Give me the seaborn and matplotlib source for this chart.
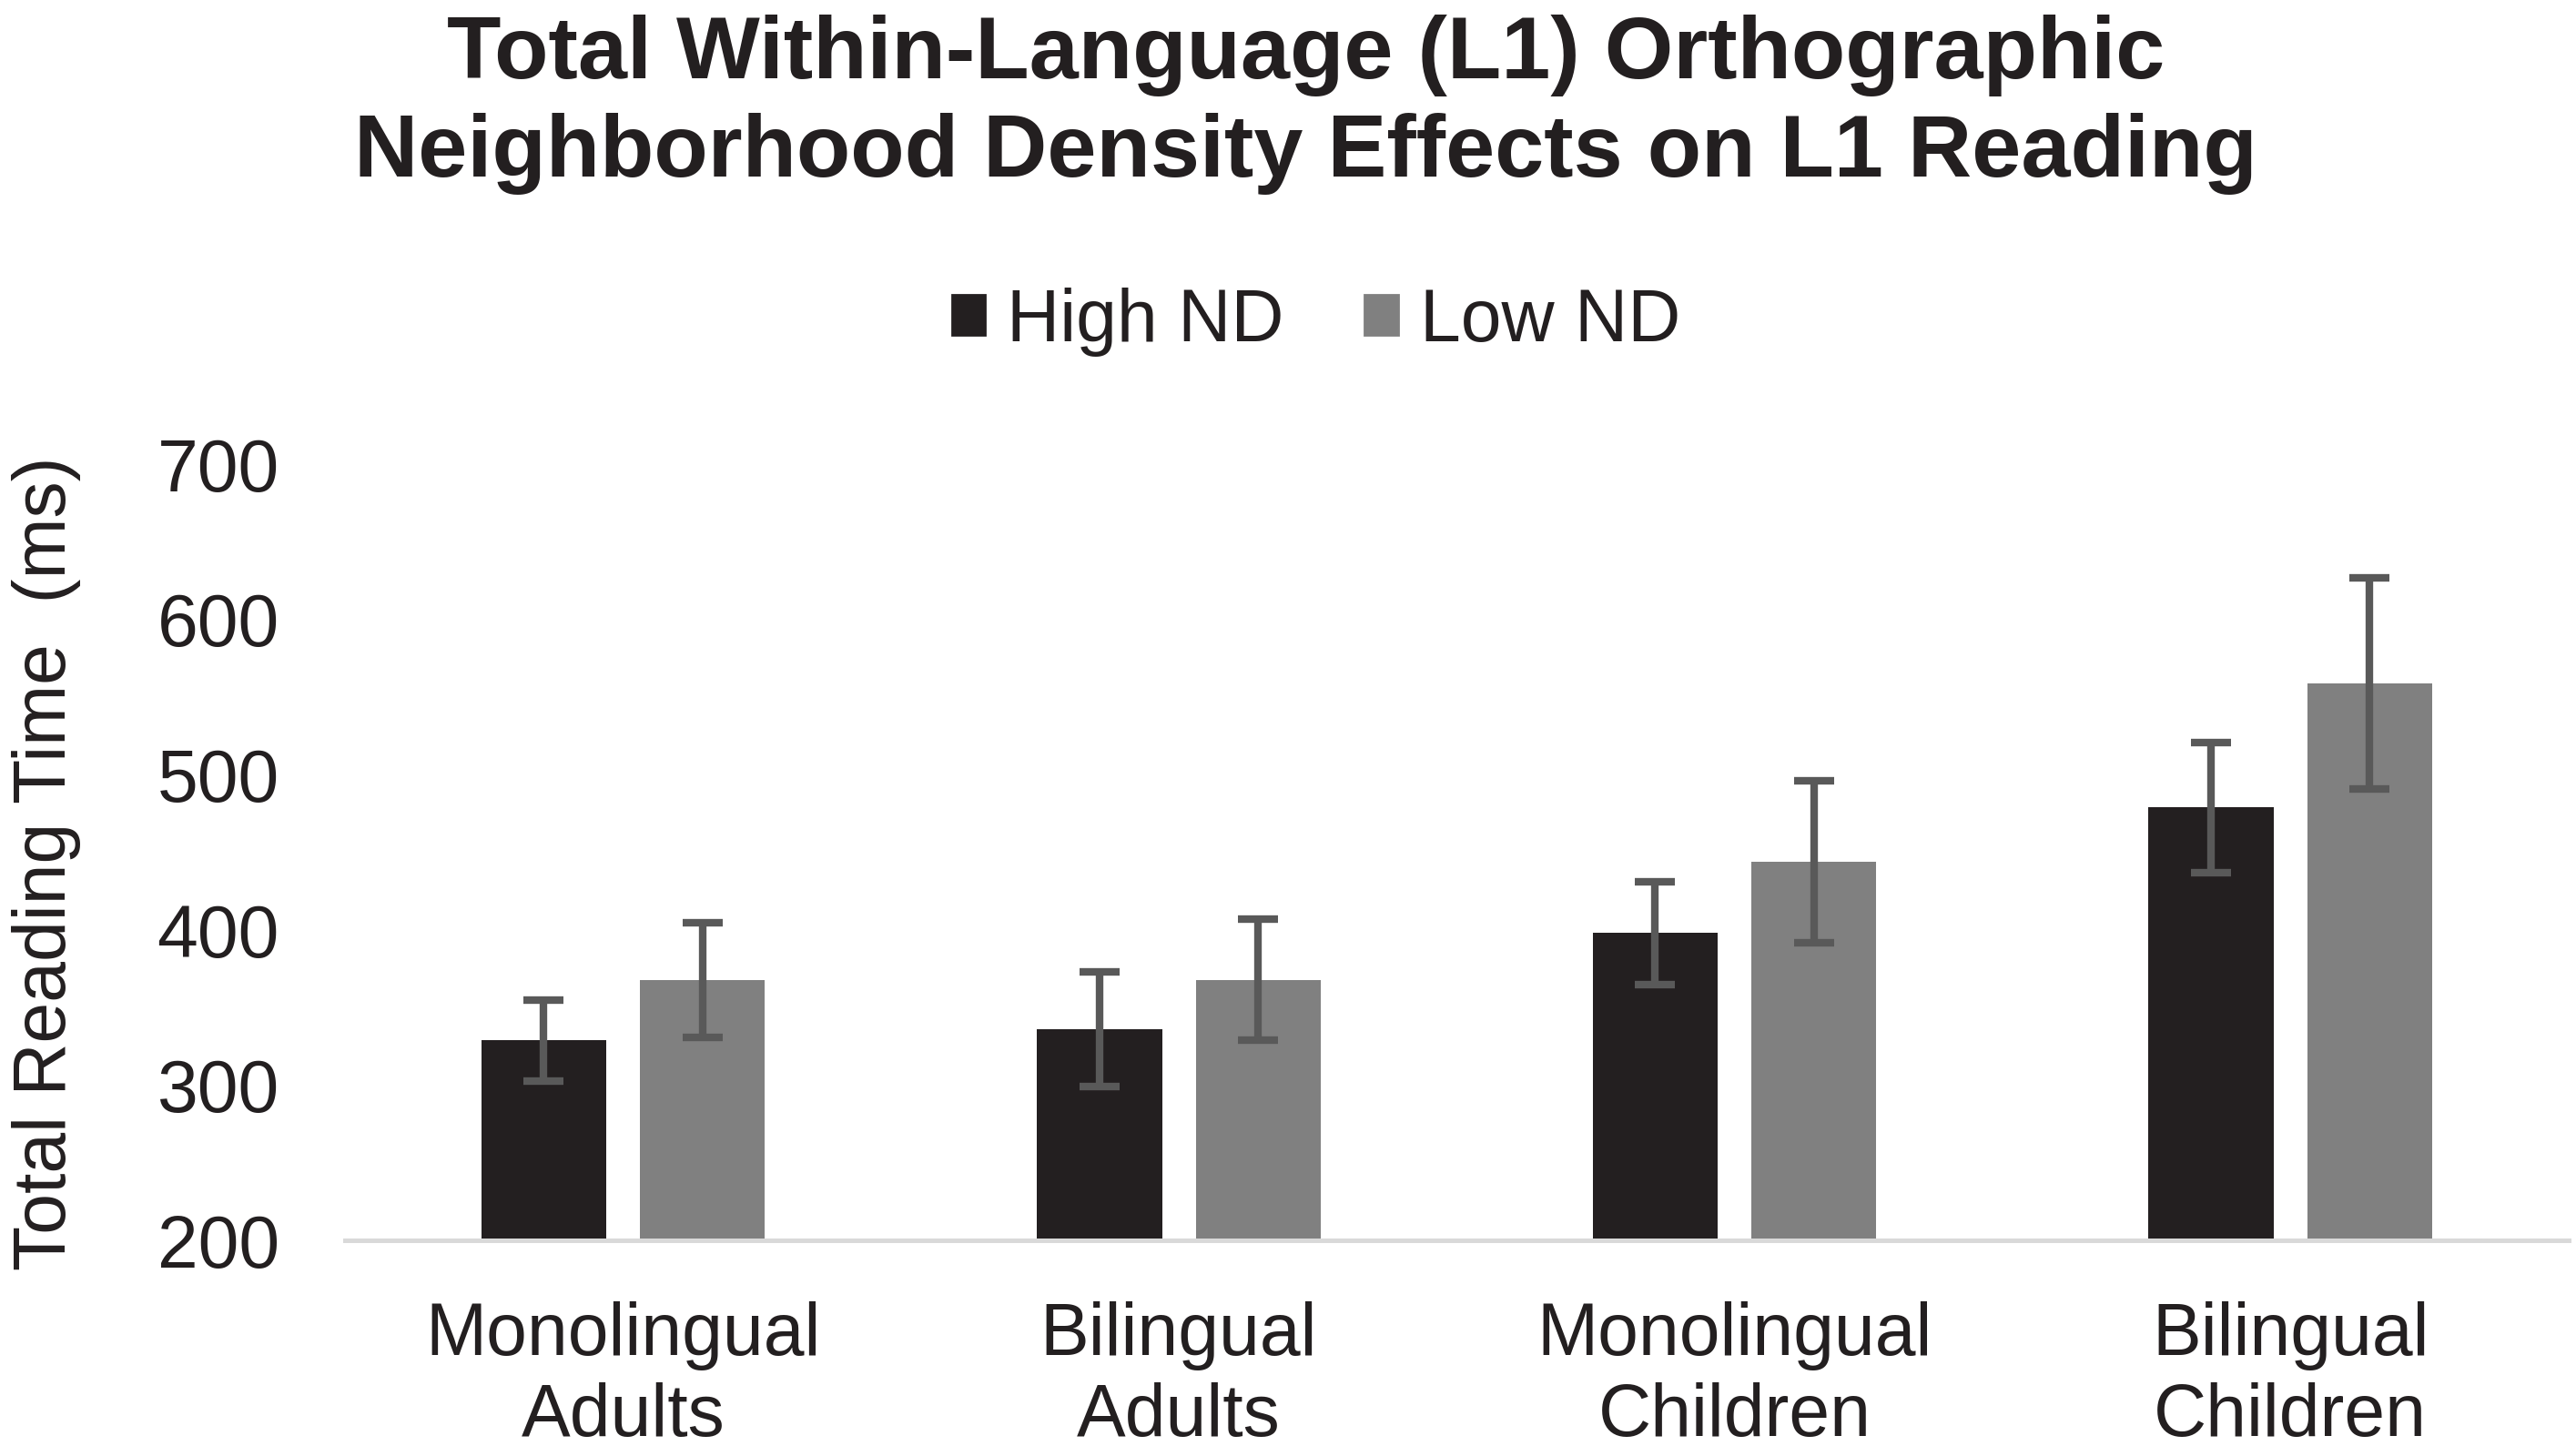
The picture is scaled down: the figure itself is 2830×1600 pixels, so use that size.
import numpy as np
import pandas as pd
import matplotlib
matplotlib.use("Agg")
import matplotlib.pyplot as plt
import seaborn as sns

# ---- data ----
groups = ["Monolingual\nAdults", "Bilingual\nAdults", "Monolingual\nChildren", "Bilingual\nChildren"]
conditions = ["High ND", "Low ND"]
high_nd = [329, 336, 398, 479]
low_nd = [368, 368, 444, 559]
high_err = [26, 37, 33, 42]
low_err = [37, 39, 52, 68]
y_ticks = [200, 300, 400, 500, 600, 700]

colors = {"High ND": "#231f20", "Low ND": "#808080"}

df = pd.DataFrame({
    "group": groups * 2,
    "cond": ["High ND"] * 4 + ["Low ND"] * 4,
    "value": high_nd + low_nd,
})
errs = {"High ND": high_err, "Low ND": low_err}

sns.set_theme(style="white")
plt.rcParams["font.family"] = ["Liberation Sans", "DejaVu Sans"]

fig = plt.figure(figsize=(14.15, 8), dpi=200)
ax = fig.add_axes([0.134, 0.148, 0.863, 0.533])

sns.barplot(data=df, x="group", y="value", hue="cond", order=groups,
            hue_order=conditions, palette=colors, width=0.571, gap=0.212,
            errorbar=None, legend=False, ax=ax, saturation=1, linewidth=0)

for cont, cond in zip(ax.containers, conditions):
    xs = [p.get_x() + p.get_width() / 2 for p in cont.patches]
    ys = [p.get_height() + p.get_y() for p in cont.patches]
    ax.errorbar(xs, ys, yerr=errs[cond], fmt="none", ecolor="#595959",
                elinewidth=3.0, capsize=8, capthick=3.0, zorder=5)

ax.set_ylim(200, 700)
ax.set_xlim(-0.5, 3.5)
ax.set_yticks(y_ticks)
ax.set_yticklabels([str(t) for t in y_ticks], fontsize=29, color="#231f20")
ax.tick_params(axis="y", length=0, pad=26)
ax.tick_params(axis="x", length=0, pad=24)
for lab in ax.get_xticklabels():
    lab.set_fontsize(29)
    lab.set_color("#231f20")
    lab.set_linespacing(1.22)
ax.set_xlabel("")
ax.set_ylabel("")
for s in ["top", "right", "left"]:
    ax.spines[s].set_visible(False)
ax.spines["bottom"].set_color("#d9d9d9")
ax.spines["bottom"].set_linewidth(1.8)
ax.grid(False)

fig.text(0.018, 0.407, "Total Reading Time  (ms)", rotation=90, ha="center",
         va="center", fontsize=29, color="#231f20")

fig.text(0.507, 0.99, "Total Within-Language (L1) Orthographic\nNeighborhood Density Effects on L1 Reading",
         ha="center", va="top", fontsize=35, fontweight="bold", color="#231f20",
         linespacing=1.25)

handles = [plt.Rectangle((0, 0), 1, 1, color=colors[c]) for c in conditions]
fig.legend(handles, conditions, loc="center", bbox_to_anchor=(0.511, 0.779),
           ncol=2, frameon=False, fontsize=29, handlelength=0.45,
           handleheight=0.45, handletextpad=0.3, columnspacing=1.1,
           labelcolor="#231f20")

fig.savefig("out.png", dpi=200)
